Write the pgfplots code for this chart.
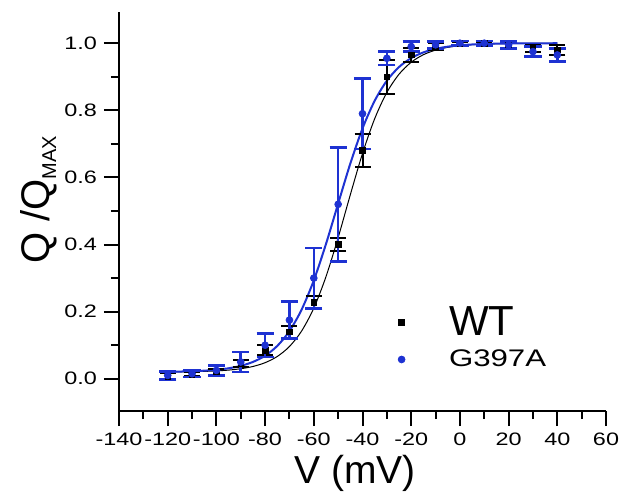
\documentclass[border=0pt]{standalone}
\usepackage{pgfplots}
\usepackage{pgfplotstable}
\pgfplotsset{compat=1.18}
\usepackage{fontspec}
\setmainfont{Liberation Sans}
\newfontfamily\widefont{Liberation Sans}[FakeStretch=1.3]
\definecolor{gblue}{HTML}{1E32D2}

% measured points: V (mV), Q/Qmax, error
\pgfplotstableread{
V Q e
-120 0.008 0.008
-110 0.013 0.006
-100 0.020 0.008
-90 0.045 0.010
-80 0.085 0.015
-70 0.140 0.018
-60 0.228 0.020
-50 0.400 0.020
-40 0.680 0.050
-30 0.900 0.050
-20 0.965 0.020
-10 0.990 0.010
0 1.000 0.005
10 1.000 0.005
20 0.995 0.008
30 0.985 0.010
40 0.980 0.015
}\wt

\pgfplotstableread{
V Q e
-120 0.010 0.012
-110 0.015 0.010
-100 0.025 0.015
-90 0.050 0.030
-80 0.100 0.035
-70 0.175 0.055
-60 0.300 0.090
-50 0.520 0.170
-40 0.790 0.105
-30 0.955 0.020
-20 0.990 0.015
-10 0.995 0.010
0 1.000 0.007
10 1.000 0.007
20 0.995 0.010
30 0.975 0.015
40 0.965 0.020
}\mut

% Boltzmann fits
\pgfplotstableread{
V Q
-120 0.0204
-115 0.0207
-110 0.0212
-105 0.0221
-100 0.0235
-95 0.0259
-90 0.0300
-85 0.0367
-80 0.0480
-75 0.0665
-70 0.0962
-65 0.1424
-60 0.2106
-55 0.3043
-50 0.4208
-45 0.5486
-40 0.6714
-35 0.7750
-30 0.8533
-25 0.9076
-20 0.9433
-15 0.9657
-10 0.9794
-5 0.9877
0 0.9927
5 0.9957
10 0.9974
15 0.9985
20 0.9991
25 0.9995
30 0.9997
35 0.9998
40 0.9999
}\wtfit

\pgfplotstableread{
V Q
-120 0.0209
-115 0.0216
-110 0.0225
-105 0.0242
-100 0.0269
-95 0.0313
-90 0.0385
-85 0.0502
-80 0.0687
-75 0.0979
-70 0.1421
-65 0.2062
-60 0.2933
-55 0.4016
-50 0.5222
-45 0.6415
-40 0.7460
-35 0.8284
-30 0.8882
-25 0.9290
-20 0.9557
-15 0.9726
-10 0.9832
-5 0.9897
0 0.9938
5 0.9962
10 0.9977
15 0.9986
20 0.9992
25 0.9995
30 0.9997
35 0.9998
40 0.9999
}\mutfit

\begin{document}
\begin{tikzpicture}
\begin{axis}[
  name=ax,
  scale only axis, width=243.5pt, height=199.5pt,
  xmin=-140, xmax=60, ymin=-0.096, ymax=1.093,
  axis x line*=bottom, axis y line*=left,
  axis line style={line width=1pt,-},
  xtick={-140,-120,-100,-80,-60,-40,-20,0,20,40,60},
  ytick={0,0.2,0.4,0.6,0.8,1.0},
  minor tick num=1,
  tick align=outside,
  major tick length=7.5pt, minor tick length=4pt,
  every tick/.style={black,line width=1pt},
  tick label style={font=\widefont\fontsize{9}{9}\selectfont},
  /pgf/number format/assume math mode=true,
  yticklabel style={/pgf/number format/.cd,fixed,fixed zerofill,precision=1},
  xlabel={V (mV)},
  xlabel style={font=\fontsize{19.5}{19.5}\selectfont,at={(axis description cs:0.485,0)},anchor=base,yshift=-36pt},
  ylabel={Q /Q\textsubscript{\fontsize{10}{10}\selectfont MAX}},
  ylabel style={font=\fontsize{20}{20}\selectfont,at={(axis description cs:-0.142,0.53)},anchor=base,rotate=0},
  legend style={at={(axis cs:-25.5,0.216)},anchor=north west,draw=none,fill=none,
    inner sep=0pt,nodes={inner sep=0pt},row sep=5.5pt},
  legend cell align=left,
  /tikz/every odd column/.append style={column sep=22pt},
]
\addplot[black,line width=0.5pt,smooth,forget plot] table[x=V,y=Q] {\wtfit};
\addplot[gblue,line width=1pt,smooth,forget plot] table[x=V,y=Q] {\mutfit};
\addplot[black,only marks,mark=square*,mark size=1.4pt,
  error bars/.cd,y dir=both,y explicit,
  error bar style={black,line width=1pt},
  error mark options={rotate=90,mark size=4pt,black,line width=1pt}]
  table[x=V,y=Q,y error=e] {\wt};
\addlegendentry{\fontsize{21}{21}\selectfont WT}
\addplot[gblue,only marks,mark=*,mark size=1.7pt,
  error bars/.cd,y dir=both,y explicit,
  error bar style={gblue,line width=1.3pt},
  error mark options={rotate=90,mark size=4.3pt,gblue,line width=1.3pt}]
  table[x=V,y=Q,y error=e] {\mut};
\addlegendentry{\widefont\fontsize{12}{12}\selectfont G397A}
\end{axis}
\path ([xshift=-59.5pt,yshift=-42pt]ax.south west) rectangle ([xshift=12pt,yshift=6pt]ax.north east);
\end{tikzpicture}
\end{document}
